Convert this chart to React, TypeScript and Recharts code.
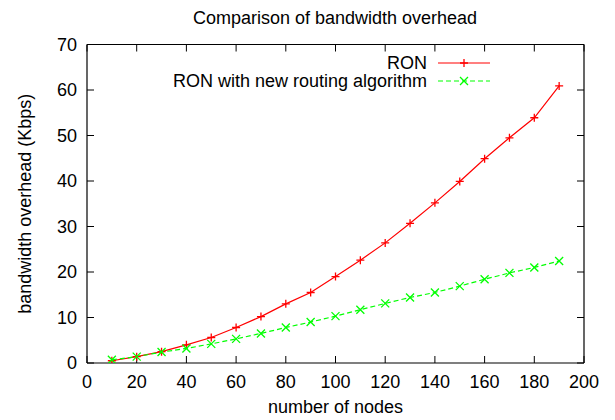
import React from 'react';
import { LineChart, Line, XAxis, YAxis, Legend } from 'recharts';

const nodes = [10, 20, 30, 40, 50, 60, 70, 80, 90, 100, 110, 120, 130, 140, 150, 160, 170, 180, 190];
const ronValues = [0.5, 1.4, 2.5, 4.0, 5.6, 7.8, 10.2, 13.0, 15.5, 19.0, 22.6, 26.4, 30.7, 35.2, 39.9, 44.9, 49.5, 53.9, 60.9];
const ronNewValues = [0.7, 1.4, 2.4, 3.2, 4.2, 5.3, 6.5, 7.8, 9.0, 10.3, 11.7, 13.1, 14.4, 15.5, 16.9, 18.4, 19.8, 21.0, 22.4];
const xTicks = [0, 20, 40, 60, 80, 100, 120, 140, 160, 180, 200];
const yTicks = [0, 10, 20, 30, 40, 50, 60, 70];
const seriesNames = ['RON', 'RON with new routing algorithm'];
const titleText = 'Comparison of bandwidth overhead';
const xLabel = 'number of nodes';
const yLabel = 'bandwidth overhead (Kbps)';

const data = nodes.map((n, i) => ({ n, ron: ronValues[i], ronNew: ronNewValues[i] }));

const FONT = '"Liberation Sans", Arial, Helvetica, sans-serif';
const RED = '#ff0000';
const GREEN = '#00ff00';

const plusPath = (cx: number, cy: number, r = 4) => `M${cx - r},${cy}h${2 * r}M${cx},${cy - r}v${2 * r}`;
const crossPath = (cx: number, cy: number, r = 4) => `M${cx - r},${cy - r}L${cx + r},${cy + r}M${cx - r},${cy + r}L${cx + r},${cy - r}`;

const PlusDot = (props: any) => {
  const { cx, cy } = props;
  if (cx == null || cy == null) return <g />;
  return <path d={plusPath(cx, cy)} stroke={RED} strokeWidth={1.3} fill="none" />;
};
const CrossDot = (props: any) => {
  const { cx, cy } = props;
  if (cx == null || cy == null) return <g />;
  return <path d={crossPath(cx, cy)} stroke={GREEN} strokeWidth={1.3} fill="none" />;
};

const NoTick = () => <g />;

const LegendContent = () => {
  const rows = [
    { name: seriesNames[0], color: RED, dash: undefined as string | undefined, marker: 'plus' },
    { name: seriesNames[1], color: GREEN, dash: '5 3', marker: 'cross' },
  ];
  return (
    <svg width={615} height={100} style={{ display: 'block' }}>
      <text x={335} y={24} textAnchor="middle" fontFamily={FONT} fontSize={18} fill="#000">
        {titleText}
      </text>
      {rows.map((r, i) => {
        const y = 63 + i * 18;
        return (
          <g key={r.name}>
            <text x={427} y={y + 6.4} textAnchor="end" fontFamily={FONT} fontSize={18} fill="#000">
              {r.name}
            </text>
            <line x1={438} x2={490} y1={y} y2={y} stroke={r.color} strokeWidth={1.2} strokeDasharray={r.dash} />
            <path d={r.marker === 'plus' ? plusPath(464, y) : crossPath(464, y)} stroke={r.color} strokeWidth={1.3} fill="none" />
          </g>
        );
      })}
    </svg>
  );
};

export default function App() {
  const tickStyle = { fontFamily: FONT, fontSize: 18, fill: '#000' };
  return (
    <div style={{ position: 'absolute', left: 0, top: 0, width: 615, height: 420, background: '#fff' }}>
      <LineChart width={615} height={420} data={data} margin={{ top: 14, right: 1, bottom: 0, left: 0 }}>
        <XAxis
          xAxisId="bottom"
          dataKey="n"
          type="number"
          domain={[0, 200]}
          ticks={xTicks}
          orientation="bottom"
          height={57}
          tickSize={-7}
          tickMargin={19}
          tick={tickStyle}
          stroke="#000"
          axisLine={{ stroke: '#000', strokeWidth: 1.2 }}
          tickLine={{ stroke: '#000' }}
          interval={0}
          allowDataOverflow
          label={{ value: xLabel, position: 'insideBottom', offset: 7, style: { fontFamily: FONT, fontSize: 18, fill: '#000' } }}
        />
        <XAxis
          xAxisId="top"
          dataKey="n"
          type="number"
          domain={[0, 200]}
          ticks={xTicks}
          orientation="top"
          height={30.5}
          tickSize={-7}
          tick={NoTick}
          axisLine={{ stroke: '#000', strokeWidth: 1.2 }}
          tickLine={{ stroke: '#000' }}
          interval={0}
          allowDataOverflow
        />
        <YAxis
          yAxisId="left"
          type="number"
          domain={[0, 70]}
          ticks={yTicks}
          orientation="left"
          width={87}
          tickSize={-7}
          tickMargin={17}
          tick={tickStyle}
          axisLine={{ stroke: '#000', strokeWidth: 1.2 }}
          tickLine={{ stroke: '#000' }}
          interval={0}
          allowDataOverflow
          label={{ value: yLabel, angle: -90, position: 'insideLeft', offset: 25, style: { textAnchor: 'middle', fontFamily: FONT, fontSize: 18, fill: '#000' } }}
        />
        <YAxis
          yAxisId="right"
          type="number"
          domain={[0, 70]}
          ticks={yTicks}
          orientation="right"
          width={30}
          tickSize={-7}
          tick={NoTick}
          axisLine={{ stroke: '#000', strokeWidth: 1.2 }}
          tickLine={{ stroke: '#000' }}
          interval={0}
          allowDataOverflow
        />
        <Legend
          layout="horizontal"
          verticalAlign="middle"
          align="center"
          wrapperStyle={{ position: 'absolute', left: 0, top: 0, width: 615, height: 100, pointerEvents: 'none' }}
          content={LegendContent}
        />
        <Line
          xAxisId="bottom"
          yAxisId="left"
          dataKey="ron"
          name={seriesNames[0]}
          type="linear"
          stroke={RED}
          strokeWidth={1.2}
          dot={PlusDot}
          activeDot={false}
          isAnimationActive={false}
        />
        <Line
          xAxisId="bottom"
          yAxisId="left"
          dataKey="ronNew"
          name={seriesNames[1]}
          type="linear"
          stroke={GREEN}
          strokeWidth={1.2}
          strokeDasharray="5 3"
          dot={CrossDot}
          activeDot={false}
          isAnimationActive={false}
        />
      </LineChart>
    </div>
  );
}
